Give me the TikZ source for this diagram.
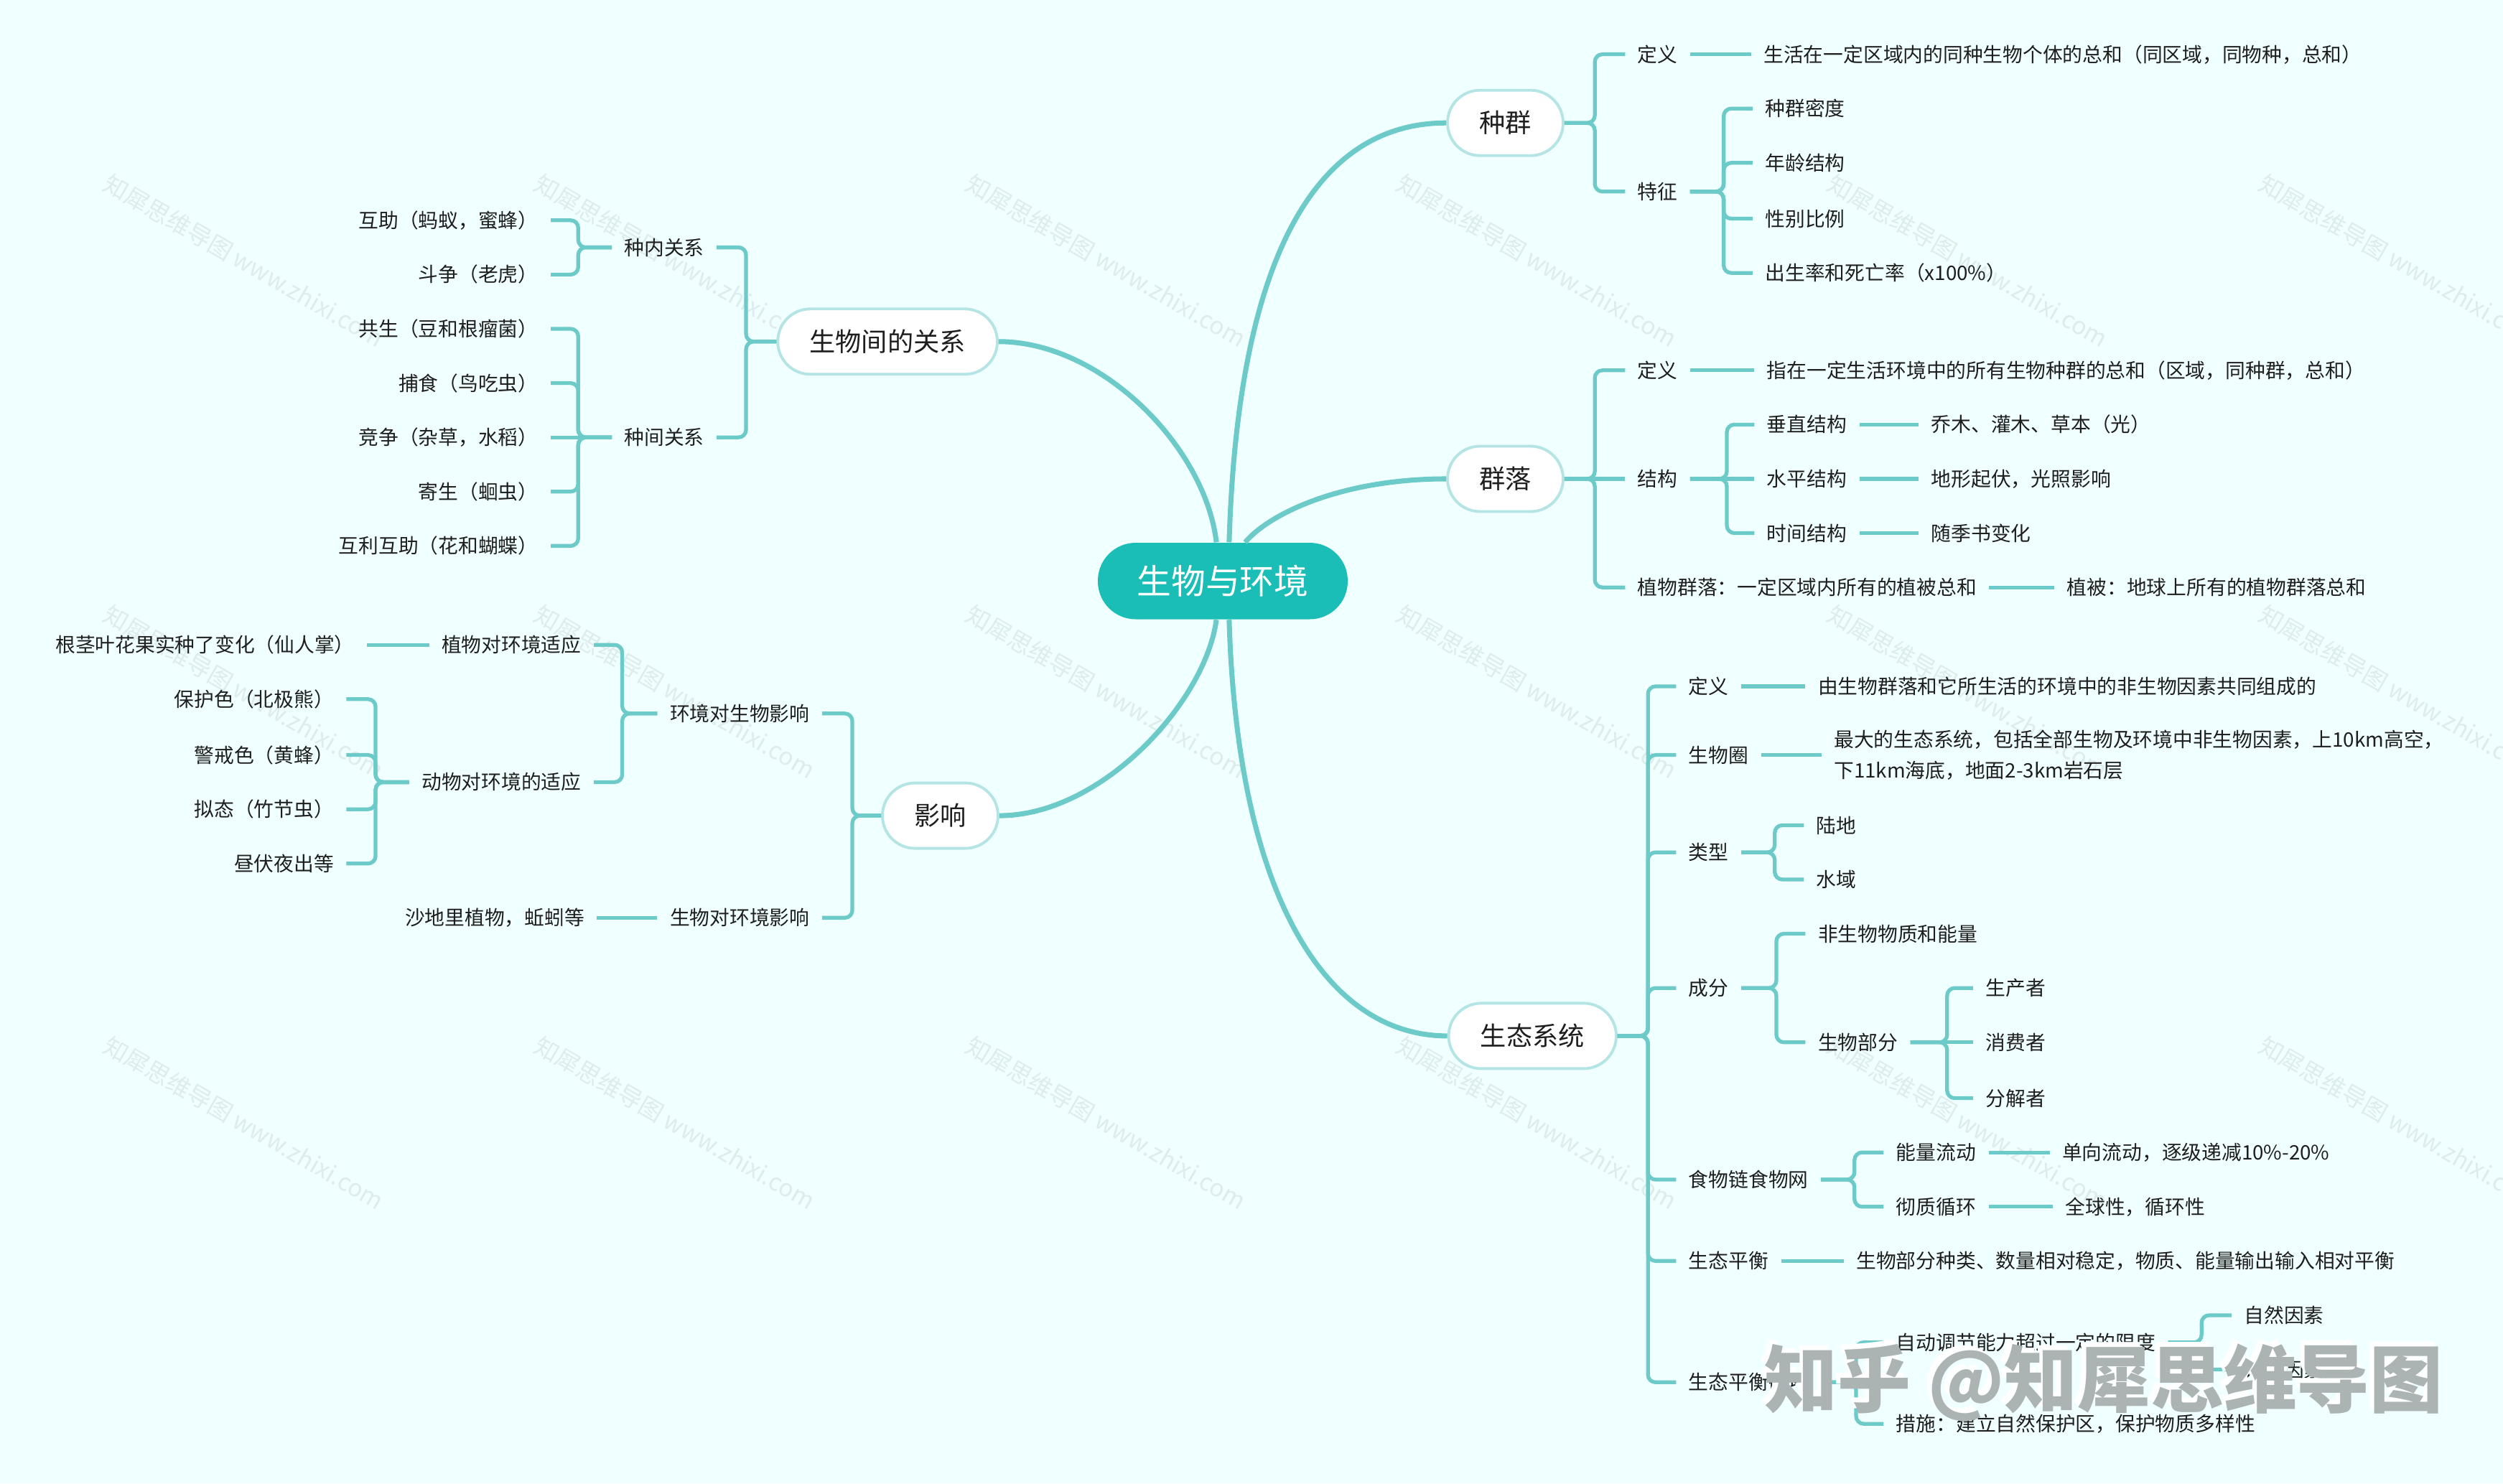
\documentclass[tikz,border=0pt]{standalone}
\usepackage{fontspec}
\newfontfamily\cjk{Noto Sans CJK SC}
\usetikzlibrary{calc}
\definecolor{bgc}{HTML}{F0FFFF}
\definecolor{linec}{HTML}{6CCAC8}
\definecolor{mainc}{HTML}{1ABEB6}
\definecolor{nodeb}{HTML}{B4E4E4}
\definecolor{txtc}{HTML}{1E1E1E}
\definecolor{wmc}{RGB}{222,236,236}
\definecolor{wmbig}{HTML}{ABB3B3}
\begin{document}
\begin{tikzpicture}[x=0.022232cm,y=-0.022232cm,
 mainnode/.style={fill=mainc,text=white,font=\cjk\fontsize{13.6}{16}\selectfont,rounded corners=15pt,minimum height=30.3pt,inner xsep=15.5pt},
 topic/.style={fill=white,draw=nodeb,line width=1.1pt,rounded corners=12.9pt,minimum height=25.9pt,inner xsep=12.6pt,font=\cjk\fontsize{10.3}{12}\selectfont,text=txtc},
 leaf/.style={font=\cjk\fontsize{7.9}{9.5}\selectfont,text=txtc,inner xsep=4.8pt,inner ysep=1pt},
 lw/.style={leaf,anchor=west},
 le/.style={leaf,anchor=east},
 br/.style={draw=linec,line width=1.5pt,rounded corners=3pt},
 curve/.style={draw=linec,line width=2pt},
 wm/.style={font=\cjk\fontsize{9.5}{11}\selectfont,text=wmc,rotate=-30,anchor=north west},
 bigwm/.style={font=\cjk\bfseries\fontsize{29}{32}\selectfont,anchor=west}
]
\fill[bgc] (0,0) rectangle (1568,929.3);
\useasboundingbox (0,0) rectangle (1568,929.3);

% faint watermarks
\foreach \x in {68,338,608,878,1148,1418}{
  \foreach \y in {100,370,640}{
    \node[wm] (wm-\x-\y) at (\x,\y) {知犀思维导图 www.zhixi.com};
  }
}

% main and topics
\node[mainnode] (main) at (766,364) {生物与环境};
\node[topic] (zq) at (943,77) {种群};
\node[topic] (ql) at (943,300) {群落};
\node[topic] (st) at (960,649) {生态系统};
\node[topic] (gx) at (556,214) {生物间的关系};
\node[topic] (yx) at (589,511) {影响};

\draw[curve] ($(main.north)+(4,0)$) .. controls (775,170) and (820,77) .. (zq.west);
\draw[curve] ($(main.north)+(14,0)$) .. controls (795,322) and (840,300) .. (ql.west);
\draw[curve] ($(main.north)+(-4,0)$) .. controls (755,280) and (690,214) .. (gx.east);
\draw[curve] ($(main.south)+(-4,0)$) .. controls (755,440) and (690,511) .. (yx.east);
\draw[curve] ($(main.south)+(4,0)$) .. controls (775,560) and (830,649) .. (st.west);

% ---- 种群
\node[lw] (zq1) at (1018,34) {定义};
\node[lw] (zq1a) at (1097,34) {生活在一定区域内的同种生物个体的总和（同区域，同物种，总和）};
\node[lw] (zq2) at (1018,120) {特征};
\node[lw] (zq2a) at (1098,68) {种群密度};
\node[lw] (zq2b) at (1098,102) {年龄结构};
\node[lw] (zq2c) at (1098,137) {性别比例};
\node[lw] (zq2d) at (1098,171) {出生率和死亡率（x100\%）};
\draw[br] (zq.east) -- ++(19,0) |- (zq1.west);
\draw[br] (zq.east) -- ++(19,0) |- (zq2.west);
\draw[br] (zq1.east) -- (zq1a.west);
\foreach \c in {zq2a,zq2b,zq2c,zq2d} \draw[br] (zq2.east) -- ++(21,0) |- (\c.west);

% ---- 群落
\node[lw] (ql1) at (1018,232) {定义};
\node[lw] (ql1a) at (1099,232) {指在一定生活环境中的所有生物种群的总和（区域，同种群，总和）};
\node[lw] (ql2) at (1018,300) {结构};
\node[lw] (ql2a) at (1099,266) {垂直结构};
\node[lw] (ql2b) at (1099,300) {水平结构};
\node[lw] (ql2c) at (1099,334) {时间结构};
\node[lw] (ql2a1) at (1202,266) {乔木、灌木、草本（光）};
\node[lw] (ql2b1) at (1202,300) {地形起伏，光照影响};
\node[lw] (ql2c1) at (1202,334) {随季书变化};
\node[lw] (ql3) at (1018,368) {植物群落：一定区域内所有的植被总和};
\node[lw] (ql3a) at (1287,368) {植被：地球上所有的植物群落总和};
\draw[br] (ql.east) -- ++(19,0) |- (ql1.west);
\draw[br] (ql.east) -- (ql2.west);
\draw[br] (ql.east) -- ++(19,0) |- (ql3.west);
\draw[br] (ql1.east) -- (ql1a.west);
\draw[br] (ql2.east) -- ++(23,0) |- (ql2a.west);
\draw[br] (ql2.east) -- (ql2b.west);
\draw[br] (ql2.east) -- ++(23,0) |- (ql2c.west);
\draw[br] (ql2a.east) -- (ql2a1.west);
\draw[br] (ql2b.east) -- (ql2b1.west);
\draw[br] (ql2c.east) -- (ql2c1.west);
\draw[br] (ql3.east) -- (ql3a.west);

% ---- 生态系统
\node[lw] (st1) at (1050,430) {定义};
\node[lw] (st1a) at (1131,430) {由生物群落和它所生活的环境中的非生物因素共同组成的};
\node[lw] (st2) at (1050,473) {生物圈};
\node[lw,align=left,font=\cjk\fontsize{7.9}{12}\selectfont] (st2a) at (1141,473) {最大的生态系统，包括全部生物及环境中非生物因素，上10km高空，\\下11km海底，地面2-3km岩石层};
\node[lw] (st3) at (1050,534) {类型};
\node[lw] (st3a) at (1130,517) {陆地};
\node[lw] (st3b) at (1130,551) {水域};
\node[lw] (st4) at (1050,619) {成分};
\node[lw] (st4a) at (1131,585) {非生物物质和能量};
\node[lw] (st4b) at (1131,653) {生物部分};
\node[lw] (st4b1) at (1236,619) {生产者};
\node[lw] (st4b2) at (1236,653) {消费者};
\node[lw] (st4b3) at (1236,688) {分解者};
\node[lw] (st5) at (1050,739) {食物链食物网};
\node[lw] (st5a) at (1180,722) {能量流动};
\node[lw] (st5b) at (1180,756) {彻质循环};
\node[lw] (st5a1) at (1284,722) {单向流动，逐级递减10\%-20\%};
\node[lw] (st5b1) at (1286,756) {全球性，循环性};
\node[lw] (st6) at (1050,790) {生态平衡};
\node[lw] (st6a) at (1155,790) {生物部分种类、数量相对稳定，物质、能量输出输入相对平衡};
\node[lw] (st7) at (1050,866) {生态平衡破坏};
\node[lw] (st7a) at (1180,841) {自动调节能力超过一定的限度};
\node[lw] (st7b) at (1180,892) {措施：建立自然保护区，保护物质多样性};
\node[lw] (st7a1) at (1398,824) {自然因素};
\node[lw] (st7a2) at (1398,858) {人为因素};
\foreach \c in {st1,st2,st3,st4,st5,st6,st7} \draw[br] (st.east) -- ++(19,0) |- (\c.west);
\draw[br] (st1.east) -- (st1a.west);
\draw[br] (st2.east) -- (st2a.west);
\draw[br] (st3.east) -- ++(21,0) |- (st3a.west);
\draw[br] (st3.east) -- ++(21,0) |- (st3b.west);
\draw[br] (st4.east) -- ++(22,0) |- (st4a.west);
\draw[br] (st4.east) -- ++(22,0) |- (st4b.west);
\draw[br] (st4b.east) -- ++(23,0) |- (st4b1.west);
\draw[br] (st4b.east) -- (st4b2.west);
\draw[br] (st4b.east) -- ++(23,0) |- (st4b3.west);
\draw[br] (st5.east) -- ++(21,0) |- (st5a.west);
\draw[br] (st5.east) -- ++(21,0) |- (st5b.west);
\draw[br] (st5a.east) -- (st5a1.west);
\draw[br] (st5b.east) -- (st5b1.west);
\draw[br] (st6.east) -- (st6a.west);
\draw[br] (st7.east) -- ++(22,0) |- (st7a.west);
\draw[br] (st7.east) -- ++(22,0) |- (st7b.west);
\draw[br] (st7a.east) -- ++(21,0) |- (st7a1.west);
\draw[br] (st7a.east) -- ++(21,0) |- (st7a2.west);

% ---- 生物间的关系
\node[le] (gx1) at (449,155) {种内关系};
\node[le] (gx2) at (449,274) {种间关系};
\node[le] (gx1a) at (345,138) {互助（蚂蚁，蜜蜂）};
\node[le] (gx1b) at (345,172) {斗争（老虎）};
\node[le] (gx2a) at (345,206) {共生（豆和根瘤菌）};
\node[le] (gx2b) at (345,240) {捕食（鸟吃虫）};
\node[le] (gx2c) at (345,274) {竞争（杂草，水稻）};
\node[le] (gx2d) at (345,308) {寄生（蛔虫）};
\node[le] (gx2e) at (345,342) {互利互助（花和蝴蝶）};
\draw[br] (gx.west) -- ++(-19,0) |- (gx1.east);
\draw[br] (gx.west) -- ++(-19,0) |- (gx2.east);
\draw[br] (gx1.west) -- ++(-21,0) |- (gx1a.east);
\draw[br] (gx1.west) -- ++(-21,0) |- (gx1b.east);
\foreach \c in {gx2a,gx2b,gx2d,gx2e} \draw[br] (gx2.west) -- ++(-21,0) |- (\c.east);
\draw[br] (gx2.west) -- (gx2c.east);

% ---- 影响
\node[le] (yx1) at (515,447) {环境对生物影响};
\node[le] (yx2) at (515,575) {生物对环境影响};
\node[le] (yx1a) at (372,404) {植物对环境适应};
\node[le] (yx1b) at (372,490) {动物对环境的适应};
\node[le] (yx1a1) at (230,404) {根茎叶花果实种了变化（仙人掌）};
\node[le] (yx1b1) at (217,438) {保护色（北极熊）};
\node[le] (yx1b2) at (217,473) {警戒色（黄蜂）};
\node[le] (yx1b3) at (217,507) {拟态（竹节虫）};
\node[le] (yx1b4) at (217,541) {昼伏夜出等};
\node[le] (yx2a) at (374,575) {沙地里植物，蚯蚓等};
\draw[br] (yx.west) -- ++(-18,0) |- (yx1.east);
\draw[br] (yx.west) -- ++(-18,0) |- (yx2.east);
\draw[br] (yx1.west) -- ++(-22,0) |- (yx1a.east);
\draw[br] (yx1.west) -- ++(-22,0) |- (yx1b.east);
\draw[br] (yx1a.west) -- (yx1a1.east);
\foreach \c in {yx1b1,yx1b2,yx1b3,yx1b4} \draw[br] (yx1b.west) -- ++(-21,0) |- (\c.east);
\draw[br] (yx2.west) -- (yx2a.east);

% big watermark
\node[bigwm,text=white] (bwm1) at (1097,863) {知乎 @知犀思维导图};
\node[bigwm,text=wmbig] (bwm2) at (1100,866) {知乎 @知犀思维导图};
\end{tikzpicture}
\end{document}
